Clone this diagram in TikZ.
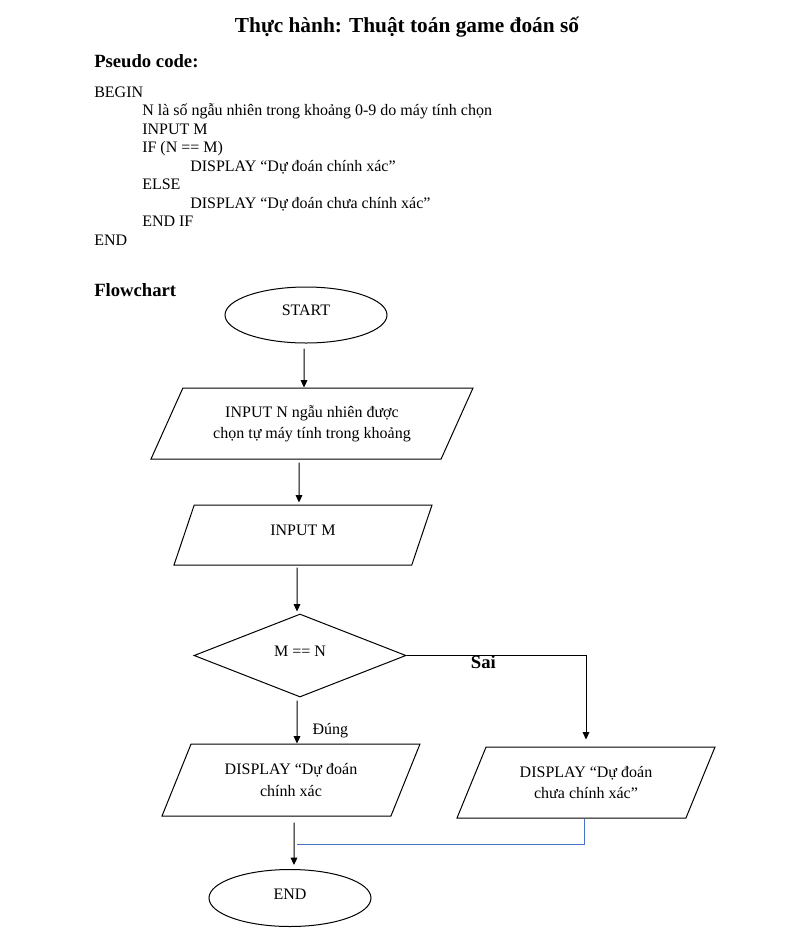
\documentclass[tikz,border=0pt]{standalone}
\usepackage{fontspec}
\setmainfont{Liberation Serif}
\usetikzlibrary{shapes.geometric,arrows.meta}
\definecolor{wordblue}{RGB}{68,114,196}
\begin{document}
\begin{tikzpicture}[x=0.75pt,y=-0.75pt,
    every node/.style={font=\fontsize{12}{16}\selectfont},
    code/.style={anchor=base west,inner sep=0pt},
    term/.style={draw,ellipse,line width=0.75pt,minimum width=121.5pt,text height=7.5pt,text depth=7.5pt},
    io/.style={draw,trapezium,trapezium left angle=55,trapezium right angle=125,
      trapezium stretches body,line width=0.75pt,minimum width=193.5pt,align=center},
    test/.style={draw,diamond,aspect=2.5,line width=0.75pt,minimum width=159pt,minimum height=62.25pt,
      text height=7.5pt,text depth=6.5pt}]
  \useasboundingbox (0,0) rectangle (798,947);
  % pseudo code
  \node[anchor=base,inner sep=0pt,font=\fontsize{16}{19}\selectfont\bfseries] (title) at (407,32) {Thực hành: Thuật toán game đoán số};
  \node[code,font=\fontsize{14}{16}\selectfont\bfseries] (pseudo) at (94,67) {Pseudo code:};
  \node[code] (l1) at (94,97) {BEGIN};
  \node[code] (l2) at (142,115.5) {N là số ngẫu nhiên trong khoảng 0-9 do máy tính chọn};
  \node[code] (l3) at (142,134) {INPUT M};
  \node[code] (l4) at (142,152.5) {IF (N == M)};
  \node[code] (l5) at (190,171) {DISPLAY “Dự đoán chính xác”};
  \node[code] (l6) at (142,189.5) {ELSE};
  \node[code] (l7) at (190,208) {DISPLAY “Dự đoán chưa chính xác”};
  \node[code] (l8) at (142,226.5) {END IF};
  \node[code] (l9) at (94,245) {END};
  % flowchart
  \node[code,font=\fontsize{14}{16}\selectfont\bfseries] (flow) at (94,296) {Flowchart};
  \node[term,minimum height=42pt] (start) at (306,315) {START};
  \node[io,minimum width=241.5pt,minimum height=53.25pt] (in1) at (312,423.5)
    {INPUT N ngẫu nhiên được\\chọn tự máy tính trong khoảng};
  \node[io,minimum height=45pt,text height=7.5pt,text depth=7.5pt] (in2) at (303,535) {INPUT M};
  \node[test] (dec) at (300,655.5) {M == N};
  \node[io,minimum height=54pt] (outY) at (291,780) {DISPLAY “Dự đoán\\chính xác};
  \node[io,minimum height=53.25pt] (outN) at (586,782.5) {DISPLAY “Dự đoán\\chưa chính xác”};
  \node[term,minimum height=42.75pt,text depth=5.5pt] (stop) at (290,898) {END};
  \coordinate (join) at (297,844);
  \begin{scope}[-{Triangle[length=5.5pt,width=5pt]},line width=0.75pt]
    \draw ([xshift=-1.5pt,yshift=-3.75pt]start.south) to ([xshift=-6pt]in1.north);
    \draw ([xshift=-9.75pt,yshift=-2.25pt]in1.south) to ([xshift=-3pt,yshift=1.5pt]in2.north);
    \draw ([xshift=-4.5pt,yshift=-1.5pt]in2.south) to ([xshift=-2.25pt,yshift=1.5pt]dec.north);
    \draw ([xshift=-2.25pt,yshift=-2.25pt]dec.south) to
      node[pos=.8,code,xshift=11.25pt] (yes) {Đúng} ([xshift=4.5pt]outY.north);
    \draw (dec.east) -|
      node[pos=.178,code,yshift=-9.75pt,font=\fontsize{14}{16}\selectfont\bfseries] (no) {Sai}
      ([yshift=5.25pt]outN.north);
    \draw ([xshift=2.25pt,yshift=-4.5pt]outY.south) to ([xshift=3pt,yshift=3pt]stop.north);
  \end{scope}
  \draw[wordblue,line width=0.75pt] ([xshift=-1.5pt]outN.south) |- (join);
\end{tikzpicture}
\end{document}
